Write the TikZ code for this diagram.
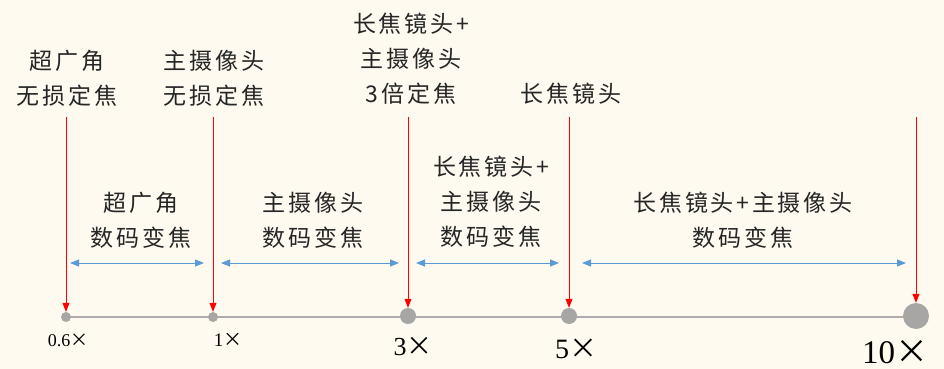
\documentclass[tikz,border=0pt]{standalone}
\usepackage{fontspec}
\setmainfont{Liberation Serif}
\newfontfamily\cjk{Noto Sans CJK SC}[LetterSpace=12]
\newfontfamily\cjkx{Noto Sans CJK SC}
\usetikzlibrary{arrows.meta}
\definecolor{bgc}{HTML}{FEFAF0}
\definecolor{axisc}{HTML}{AEACAC}
\definecolor{dotc}{HTML}{A8A5A5}
\definecolor{bluec}{HTML}{5B9BD5}
\newcommand{\tms}{{\cjkx ×}}
\tikzset{
  lbl/.style={align=center, font=\cjk\fontsize{23}{35}\selectfont, text=black!85, inner sep=0pt},
  redarr/.style={draw=red, line width=0.8pt, -{Triangle[length=9pt,width=7pt]}},
  bluearr/.style={draw=bluec, line width=1pt, {Triangle[length=9pt,width=7pt]}-{Triangle[length=9pt,width=7pt]}},
  dotn/.style={circle, fill=dotc, inner sep=0pt},
  num/.style={inner sep=0pt, text=black}
}
\begin{document}
\begin{tikzpicture}[x=1pt,y=-1pt]
\fill[bgc] (0,0) rectangle (944,369);
\useasboundingbox (0,0) rectangle (944,369);
% axis
\coordinate (axl) at (66,317);
\coordinate (axr) at (916,317);
\draw[axisc, line width=2.5pt] (axl) -- (axr);
\node[dotn, minimum size=10pt] (d06) at (66,317) {};
\node[dotn, minimum size=10pt] (d1) at (213,317) {};
\node[dotn, minimum size=16pt] (d3) at (408,316) {};
\node[dotn, minimum size=16pt] (d5) at (569,316) {};
\node[dotn, minimum size=26pt] (d10) at (916,316) {};
% numbers
\node[num, font=\fontsize{18}{18}\selectfont] (n06) at (68,340) {0.6\tms};
\node[num, font=\fontsize{19}{19}\selectfont] (n1) at (228,340) {1\tms};
\node[num, font=\fontsize{26}{26}\selectfont] (n3) at (413,347) {3\tms};
\node[num, font=\fontsize{28}{28}\selectfont] (n5) at (576,349) {5\tms};
\node[num, font=\fontsize{33}{33}\selectfont] (n10) at (895,352) {10\tms};
% top labels
\node[lbl] (t06) at (67,78) {超广角\\无损定焦};
\node[lbl] (t1) at (214,78) {主摄像头\\无损定焦};
\node[lbl] (t3) at (411,59) {长焦镜头+\\主摄像头\\3倍定焦};
\node[lbl] (t5) at (571,94) {长焦镜头};
% top coords
\coordinate (s06) at (66,117);
\coordinate (s1) at (213,117);
\coordinate (s3) at (408,117);
\coordinate (s5) at (569,117);
\coordinate (s10) at (916,117);
\draw[redarr] (s06) -- (d06.north);
\draw[redarr] (s1) -- (d1.north);
\draw[redarr] (s3) -- (d3.north);
\draw[redarr] (s5) -- (d5.north);
\draw[redarr] (s10) -- (d10.north);
% middle labels
\node[lbl] (m1) at (141,220) {超广角\\数码变焦};
\node[lbl] (m2) at (313,220) {主摄像头\\数码变焦};
\node[lbl] (m3) at (491,202) {长焦镜头+\\主摄像头\\数码变焦};
\node[lbl] (m4) at (743,220) {长焦镜头+主摄像头\\数码变焦};
% blue arrows
\coordinate (b1l) at (70,263); \coordinate (b1r) at (204,263);
\coordinate (b2l) at (221,263); \coordinate (b2r) at (399,263);
\coordinate (b3l) at (416,263); \coordinate (b3r) at (559,263);
\coordinate (b4l) at (582,263); \coordinate (b4r) at (906,263);
\draw[bluearr] (b1l) -- (b1r);
\draw[bluearr] (b2l) -- (b2r);
\draw[bluearr] (b3l) -- (b3r);
\draw[bluearr] (b4l) -- (b4r);
\end{tikzpicture}
\end{document}
